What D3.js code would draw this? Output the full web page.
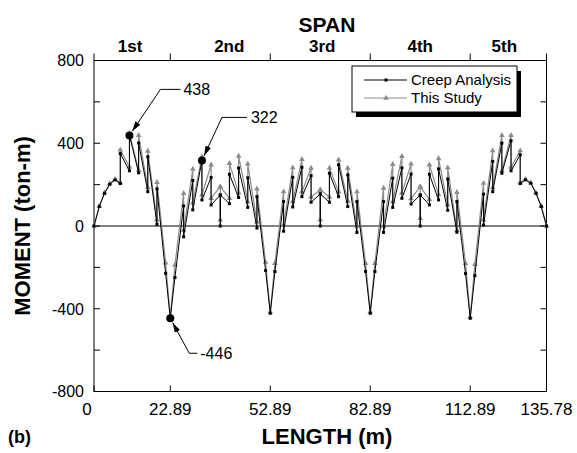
<!DOCTYPE html>
<html>
<head>
<meta charset="utf-8">
<script src="https://cdn.jsdelivr.net/npm/d3@7"></script>
<style>
  body { margin: 0; background: #fff; }
  svg { display: block; font-family: "Liberation Sans", Arial, sans-serif; }
</style>
</head>
<body>
<div id="chart"></div>
<script>
// node positions along the bridge (m), repeated where the moment jumps
var lengthM = [
  0, 1.58, 3.16, 4.73, 6.31, 7.89, 7.89, 10.64, 10.64, 13.39, 13.39, 16.14, 16.14, 18.89, 18.89, 21.49, 22.89,
  24.29, 26.89, 26.89, 29.64, 29.64, 32.39, 32.39, 35.14, 35.14, 37.89, 37.89, 37.89,
  40.64, 40.64, 43.39, 43.39, 46.14, 46.14, 48.89, 48.89, 51.49, 52.89,
  54.29, 56.89, 56.89, 59.64, 59.64, 62.39, 62.39, 65.14, 65.14, 67.89, 67.89, 67.89,
  70.64, 70.64, 73.39, 73.39, 76.14, 76.14, 78.89, 78.89, 81.49, 82.89,
  84.29, 86.89, 86.89, 89.64, 89.64, 92.39, 92.39, 95.14, 95.14, 97.89, 97.89, 97.89,
  100.64, 100.64, 103.39, 103.39, 106.14, 106.14, 108.89, 108.89, 111.49, 112.89,
  114.29, 116.89, 116.89, 119.64, 119.64, 122.39, 122.39, 125.14, 125.14, 127.89, 127.89,
  129.47, 131.05, 132.62, 134.2, 135.78
];

// Creep Analysis (ton-m)
var creepMoment = [
  0, 94, 158, 202, 223, 205, 350, 267, 438, 257, 401, 166, 335, 8, 180, -229, -446,
  -249, 97, -52, 220, 78, 317, 126, 235, 102, 150, 0, 150,
  108, 250, 138, 280, 90, 233, -10, 142, -215, -422,
  -220, 118, -25, 235, 92, 284, 142, 243, 115, 155, 0, 155,
  115, 255, 142, 296, 94, 247, -31, 118, -220, -422,
  -220, 118, -31, 231, 90, 281, 134, 251, 106, 150, 0, 150,
  102, 250, 126, 276, 76, 227, -30, 118, -230, -446,
  -240, 154, 5, 312, 166, 401, 255, 412, 267, 344, 205,
  223, 207, 158, 94, 0
];

// This Study (ton-m)
var studyMoment = [
  0, 96, 160, 205, 226, 210, 368, 285, 448, 270, 438, 185, 362, 30, 211, -178, -440,
  -189, 158, -20, 275, 112, 335, 150, 296, 134, 190, 30, 190,
  134, 303, 160, 338, 118, 300, 20, 180, -175, -415,
  -180, 166, 5, 282, 118, 322, 165, 280, 140, 175, 30, 175,
  140, 280, 165, 320, 120, 280, 0, 166, -180, -415,
  -180, 183, 0, 298, 118, 337, 160, 300, 132, 190, 37, 190,
  128, 296, 152, 326, 102, 282, -20, 163, -180, -440,
  -185, 207, 30, 364, 185, 438, 268, 438, 285, 364, 210,
  226, 209, 160, 96, 0
];

var xTicks = [0, 22.89, 52.89, 82.89, 112.89, 135.78];
var yTicks = [-800, -400, 0, 400, 800];
var yMinor = [-600, -200, 200, 600];
var spanEnds = [0, 22.89, 52.89, 82.89, 112.89, 135.78];
var spanNames = ['1st', '2nd', '3rd', '4th', '5th'];

// marked values: [x (m), value]
var callouts = [
  { x: 10.64, v: 438, text: '438' },
  { x: 32.39, v: 317, text: '322' },
  { x: 22.89, v: -446, text: '-446' }
];

var width = 577, height = 453;
var margin = { top: 60.5, right: 30.5, bottom: 61.5, left: 94 };

var svg = d3.select('#chart').append('svg')
  .attr('width', width)
  .attr('height', height);

var x = d3.scaleLinear().domain([0, 135.78]).range([margin.left, width - margin.right]);
var y = d3.scaleLinear().domain([-800, 800]).range([height - margin.bottom, margin.top]);

var x0 = x(0), x1 = x(135.78), yTop = y(800), yBot = y(-800);

// frame
svg.append('rect')
  .attr('x', x0).attr('y', yTop)
  .attr('width', x1 - x0).attr('height', yBot - yTop)
  .attr('fill', 'none').attr('stroke', '#000').attr('stroke-width', 1);

// zero line
svg.append('line')
  .attr('x1', x0).attr('x2', x1)
  .attr('y1', y(0)).attr('y2', y(0))
  .attr('stroke', '#000').attr('stroke-width', 1);

// left / right ticks (inward)
var allY = yTicks.concat(yMinor);
svg.selectAll('.ytk').data(allY).enter().append('line')
  .attr('x1', x0).attr('x2', x0 + 6)
  .attr('y1', d => y(d)).attr('y2', d => y(d))
  .attr('stroke', '#000');
svg.selectAll('.ytkr').data(allY).enter().append('line')
  .attr('x1', x1).attr('x2', x1 - 6)
  .attr('y1', d => y(d)).attr('y2', d => y(d))
  .attr('stroke', '#000');

svg.selectAll('.ylab').data(yTicks).enter().append('text')
  .attr('x', x0 - 10)
  .attr('y', d => y(d))
  .attr('dy', '0.36em')
  .attr('text-anchor', 'end')
  .attr('font-size', 16)
  .text(d => d);

// bottom ticks (inward)
svg.selectAll('.xtk').data(xTicks).enter().append('line')
  .attr('x1', d => x(d)).attr('x2', d => x(d))
  .attr('y1', yBot).attr('y2', yBot - 6)
  .attr('stroke', '#000');

svg.selectAll('.xlab').data(xTicks).enter().append('text')
  .attr('x', (d, i) => x(d) + (i === 0 ? -7 : 0))
  .attr('y', yBot + 23)
  .attr('text-anchor', 'middle')
  .attr('font-size', 17)
  .text(d => d === 0 ? '0' : d.toFixed(2));

// top span axis (outward ticks)
svg.selectAll('.stk').data(spanEnds).enter().append('line')
  .attr('x1', d => x(d)).attr('x2', d => x(d))
  .attr('y1', yTop).attr('y2', yTop - 7)
  .attr('stroke', '#000');

var spanShift = [-2, 9, 2, 0, -4];
svg.selectAll('.slab').data(spanNames).enter().append('text')
  .attr('x', (d, i) => (x(spanEnds[i]) + x(spanEnds[i + 1])) / 2 + spanShift[i])
  .attr('y', 52)
  .attr('text-anchor', 'middle')
  .attr('font-size', 17)
  .attr('font-weight', 'bold')
  .text(d => d);

svg.append('text')
  .attr('x', 327).attr('y', 32)
  .attr('text-anchor', 'middle')
  .attr('font-size', 21)
  .attr('font-weight', 'bold')
  .text('SPAN');

// axis titles
svg.append('text')
  .attr('transform', 'translate(30,' + y(0) + ') rotate(-90)')
  .attr('text-anchor', 'middle')
  .attr('font-size', 22)
  .attr('font-weight', 'bold')
  .text('MOMENT (ton-m)');

svg.append('text')
  .attr('x', 327).attr('y', 444)
  .attr('text-anchor', 'middle')
  .attr('font-size', 22)
  .attr('font-weight', 'bold')
  .text('LENGTH (m)');

svg.append('text')
  .attr('x', 8).attr('y', 443)
  .attr('font-size', 18)
  .attr('font-weight', 'bold')
  .text('(b)');

// series
var creep = lengthM.map((d, i) => ({ x: d, v: creepMoment[i] }));
var study = lengthM.map((d, i) => ({ x: d, v: studyMoment[i] }));

var line = d3.line().x(d => x(d.x)).y(d => y(d.v));

var gStudy = svg.append('g');
gStudy.append('path').datum(study)
  .attr('d', line)
  .attr('fill', 'none')
  .attr('stroke', '#8c8c8c')
  .attr('stroke-width', 1.2);
gStudy.selectAll('path.tri').data(study).enter().append('path')
  .attr('class', 'tri')
  .attr('d', d3.symbol(d3.symbolTriangle, 14))
  .attr('transform', d => 'translate(' + x(d.x) + ',' + y(d.v) + ')')
  .attr('fill', '#8c8c8c');

var gCreep = svg.append('g');
gCreep.append('path').datum(creep)
  .attr('d', line)
  .attr('fill', 'none')
  .attr('stroke', '#000')
  .attr('stroke-width', 1);
gCreep.selectAll('rect').data(creep).enter().append('rect')
  .attr('x', d => x(d.x) - 1.5)
  .attr('y', d => y(d.v) - 1.5)
  .attr('width', 3).attr('height', 3)
  .attr('fill', '#000');

// callouts
svg.append('defs').append('marker')
  .attr('id', 'arr')
  .attr('viewBox', '0 0 10 6')
  .attr('refX', 10).attr('refY', 3)
  .attr('markerWidth', 10).attr('markerHeight', 6)
  .attr('markerUnits', 'userSpaceOnUse')
  .attr('orient', 'auto')
  .append('path').attr('d', 'M0,0 L10,3 L0,6 Z').attr('fill', '#000');

// leader geometry as pixel offsets from the marked point
var leaders = [
  { knee: [31, -46], end: [51, -46], label: [54, -46] },
  { knee: [20, -43], end: [45, -43], label: [49, -43] },
  { knee: [19, 35], end: [27, 35], label: [30, 35] }
];

callouts.forEach(function(c, i) {
  var px = x(c.x), py = y(c.v), L = leaders[i];
  var dx = L.knee[0], dy = L.knee[1], len = Math.sqrt(dx * dx + dy * dy);
  svg.append('path')
    .attr('d', 'M' + (px + L.end[0]) + ',' + (py + L.end[1]) +
      ' L' + (px + dx) + ',' + (py + dy) +
      ' L' + (px + dx * 5 / len) + ',' + (py + dy * 5 / len))
    .attr('fill', 'none')
    .attr('stroke', '#000')
    .attr('stroke-width', 1)
    .attr('marker-end', 'url(#arr)');
  svg.append('circle')
    .attr('cx', px).attr('cy', py).attr('r', 4)
    .attr('fill', '#000');
  svg.append('text')
    .attr('x', px + L.label[0]).attr('y', py + L.label[1])
    .attr('dy', '0.36em')
    .attr('font-size', 16)
    .text(c.text);
});

// legend
var lg = svg.append('g').attr('transform', 'translate(352,66)');
lg.append('rect').attr('x', 4).attr('y', 5).attr('width', 165).attr('height', 46).attr('fill', '#000');
lg.append('rect').attr('x', 0).attr('y', 0).attr('width', 165).attr('height', 46)
  .attr('fill', '#fff').attr('stroke', '#000').attr('stroke-width', 1);

lg.append('line').attr('x1', 12).attr('x2', 55).attr('y1', 14).attr('y2', 14).attr('stroke', '#000');
lg.append('rect').attr('x', 32.5).attr('y', 12.5).attr('width', 3).attr('height', 3).attr('fill', '#000');
lg.append('text').attr('x', 59).attr('y', 14).attr('dy', '0.36em').attr('font-size', 15).text('Creep Analysis');

lg.append('line').attr('x1', 12).attr('x2', 55).attr('y1', 32).attr('y2', 32).attr('stroke', '#8c8c8c');
lg.append('path').attr('d', d3.symbol(d3.symbolTriangle, 14)).attr('transform', 'translate(34,32)').attr('fill', '#8c8c8c');
lg.append('text').attr('x', 59).attr('y', 32).attr('dy', '0.36em').attr('font-size', 15).text('This Study');
</script>
</body>
</html>
